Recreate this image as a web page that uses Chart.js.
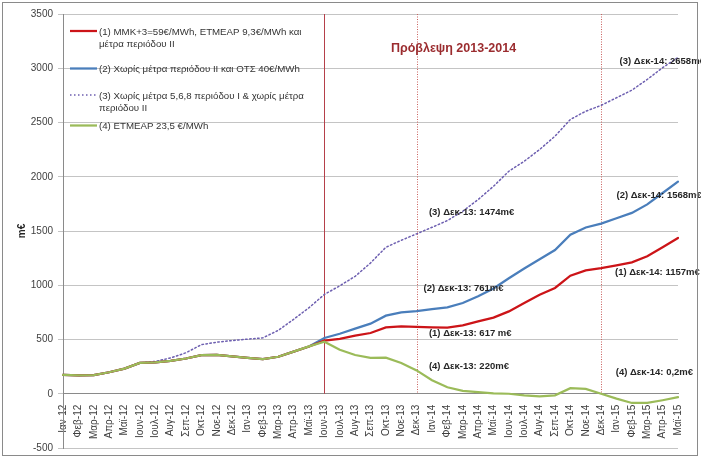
<!DOCTYPE html>
<html>
<head>
<meta charset="utf-8">
<script src="https://cdn.jsdelivr.net/npm/chart.js@4.4.0/dist/chart.umd.min.js"></script>
<style>
  html, body { margin: 0; padding: 0; background: #fff; }
  #wrap { width: 701px; height: 460px; }
</style>
</head>
<body>
<div id="wrap"><canvas id="chart" width="701" height="460"></canvas></div>
<script>
const months = ['Ιαν-12', 'Φεβ-12', 'Μαρ-12', 'Απρ-12', 'Μαϊ-12', 'Ιουν-12', 'Ιουλ-12', 'Αυγ-12', 'Σεπ-12', 'Οκτ-12', 'Νοε-12', 'Δεκ-12',
                'Ιαν-13', 'Φεβ-13', 'Μαρ-13', 'Απρ-13', 'Μαϊ-13', 'Ιουν-13', 'Ιουλ-13', 'Αυγ-13', 'Σεπ-13', 'Οκτ-13', 'Νοε-13', 'Δεκ-13',
                'Ιαν-14', 'Φεβ-14', 'Μαρ-14', 'Απρ-14', 'Μαϊ-14', 'Ιουν-14', 'Ιουλ-14', 'Αυγ-14', 'Σεπ-14', 'Οκτ-14', 'Νοε-14', 'Δεκ-14',
                'Ιαν-15', 'Φεβ-15', 'Μαρ-15', 'Απρ-15', 'Μαϊ-15'];

// (1) ΜΜΚ+3
const scenario1 = [175, 169, 172, 198, 232, 284, 289, 302, 325, 355, 358, 344, 331, 319, 341, 388, 436,
                   490, 505, 535, 560, 612, 621, 617, 612, 609, 630, 667, 702, 759, 836, 913, 975, 1088, 1137, 1157,
                   1184, 1211, 1267, 1350, 1436];
// (2) χωρίς μέτρα περιόδου ΙΙ
const scenario2 = [175, 169, 172, 198, 232, 284, 289, 302, 325, 355, 358, 344, 331, 319, 341, 388, 436,
                   514, 553, 600, 646, 720, 750, 761, 781, 796, 836, 898, 970, 1065, 1155, 1240, 1325, 1465, 1532, 1568,
                   1618, 1667, 1745, 1850, 1955];
// (3) χωρίς μέτρα 5,6,8
const scenario3 = [175, 169, 172, 198, 232, 284, 298, 330, 378, 452, 475, 490, 503, 515, 584, 686, 793,
                   915, 995, 1082, 1205, 1350, 1414, 1474, 1534, 1596, 1682, 1790, 1912, 2051, 2143, 2251, 2374, 2528, 2604, 2658,
                   2728, 2798, 2897, 3005, 3100];
// (4) ΕΤΜΕΑΡ 23,5
const scenario4 = [175, 169, 172, 198, 232, 284, 289, 302, 325, 355, 358, 344, 331, 319, 341, 388, 436,
                   480, 406, 357, 330, 332, 284, 215, 125, 60, 27, 14, 3, 0, -15, -25, -15, 52, 45, 0,
                   -45, -85, -85, -60, -32];

const legendLabels = [
    ['(1) ΜΜΚ+3=59€/MWh, ΕΤΜΕΑΡ 9,3€/MWh και', 'μέτρα περιόδου ΙΙ'],
    ['(2) Χωρίς μέτρα περιόδου ΙΙ και ΟΤΣ 40€/MWh'],
    ['(3) Χωρίς μέτρα 5,6,8 περιόδου Ι & χωρίς μέτρα', 'περιόδου ΙΙ'],
    ['(4) ΕΤΜΕΑΡ 23,5 €/MWh']
];

const markerMonths = ['Ιουν-13', 'Δεκ-13', 'Δεκ-14'];

// text notes: [text, month position, value]
const notes = [
    ['(3) Δεκ-14: 2658m€', 36.2, 3060],
    ['(2) Δεκ-14: 1568m€', 36.0, 1827],
    ['(1) Δεκ-14: 1157m€', 35.9, 1116],
    ['(4) Δεκ-14: 0,2m€', 35.95, 197],
    ['(3) Δεκ-13: 1474m€', 23.8, 1676],
    ['(2) Δεκ-13: 761m€', 23.45, 975],
    ['(1) Δεκ-13: 617 m€', 23.8, 556],
    ['(4) Δεκ-13: 220m€', 23.8, 252]
];

const FONT = "'Liberation Sans', Arial, sans-serif";

const extras = {
    id: 'extras',
    beforeDatasetsDraw(chart) {
        const {ctx, chartArea, scales: {x, y}} = chart;
        ctx.save();
        markerMonths.forEach(function(m, i) {
            const px = Math.round(x.getPixelForValue(months.indexOf(m))) + 0.5;
            ctx.beginPath();
            ctx.strokeStyle = i === 0 ? '#b5404a' : '#c9605d';
            ctx.lineWidth = 1;
            ctx.setLineDash(i === 0 ? [] : [1, 1.5]);
            ctx.moveTo(px, chartArea.top);
            ctx.lineTo(px, y.getPixelForValue(0));
            ctx.stroke();
        });
        ctx.restore();
    },
    afterDatasetsDraw(chart) {
        const {ctx, chartArea, scales: {x, y}} = chart;
        ctx.save();
        // forecast title
        ctx.fillStyle = '#9b2c2f';
        ctx.font = 'bold 12.5px ' + FONT;
        ctx.textAlign = 'center';
        ctx.textBaseline = 'middle';
        ctx.fillText('Πρόβλεψη 2013-2014', x.getPixelForValue(25.4), y.getPixelForValue(3180));

        // notes
        ctx.fillStyle = '#262626';
        ctx.font = 'bold 9.5px ' + FONT;
        ctx.textAlign = 'left';
        notes.forEach(function(n) {
            ctx.fillText(n[0], x.getPixelForValue(n[1]), y.getPixelForValue(n[2]));
        });

        // legend inside the plot
        const rows = [17, 54.5, 81, 111.5];
        const lx = chartArea.left + 7;
        ctx.font = '9.7px ' + FONT;
        ctx.fillStyle = '#333';
        chart.data.datasets.forEach(function(ds, i) {
            const ly = chartArea.top + rows[i];
            ctx.beginPath();
            ctx.strokeStyle = ds.borderColor;
            ctx.lineWidth = ds.borderWidth;
            ctx.setLineDash(ds.borderDash || []);
            ctx.moveTo(lx, ly);
            ctx.lineTo(lx + 27, ly);
            ctx.stroke();
            legendLabels[i].forEach(function(t, j) {
                ctx.fillText(t, lx + 29, ly + 1 + j * 12);
            });
        });
        ctx.restore();
    },
    afterDraw(chart) {
        const ctx = chart.ctx;
        ctx.save();
        ctx.strokeStyle = '#8a8a8a';
        ctx.lineWidth = 1;
        ctx.strokeRect(2.5, 2.5, 695, 453);
        ctx.restore();
    }
};

new Chart(document.getElementById('chart').getContext('2d'), {
    type: 'line',
    data: {
        labels: months,
        datasets: [
            { data: scenario1, borderColor: '#cc1418', borderWidth: 2.25, order: 1 },
            { data: scenario2, borderColor: '#4a7ebb', borderWidth: 2.25, order: 2 },
            { data: scenario3, borderColor: '#6d5fb0', borderWidth: 1.5, borderDash: [1.5, 2.5], order: 3 },
            { data: scenario4, borderColor: '#9bbb59', borderWidth: 2.25, order: 0 }
        ]
    },
    options: {
        responsive: false,
        animation: false,
        layout: { padding: { left: 10, top: 14, right: 23, bottom: 12 } },
        elements: { point: { radius: 0 }, line: { tension: 0, borderCapStyle: 'round' } },
        plugins: {
            legend: { display: false },
            tooltip: { enabled: false }
        },
        scales: {
            x: {
                position: { y: 0 },
                grid: { display: false },
                border: { display: true, color: '#8a8a8a' },
                ticks: {
                    minRotation: 90, maxRotation: 90, autoSkip: false,
                    padding: 3,
                    color: '#404040',
                    font: { family: FONT, size: 10 }
                }
            },
            y: {
                min: -500,
                max: 3500,
                ticks: {
                    stepSize: 500,
                    padding: 5,
                    color: '#404040',
                    font: { family: FONT, size: 10 },
                    callback: function(v) { return String(v); }
                },
                grid: { color: '#c4c4c4', tickLength: 5 },
                border: { color: '#8a8a8a' },
                title: {
                    display: true,
                    text: 'm€',
                    color: '#262626',
                    font: { family: FONT, size: 10, weight: 'bold' },
                    padding: { top: 6, bottom: 4 }
                },
                afterFit: function(scale) { scale.width = 53; }
            }
        }
    },
    plugins: [extras]
});
</script>
</body>
</html>
